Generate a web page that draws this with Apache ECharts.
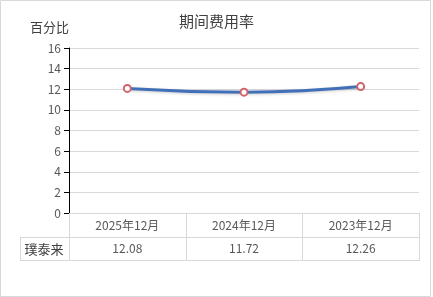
<!DOCTYPE html>
<html><head><meta charset="utf-8">
<script src="https://cdn.jsdelivr.net/npm/echarts@6/dist/echarts.min.js"></script>
<style>html,body{margin:0;padding:0;background:#fff}#c{width:433px;height:297px}</style>
</head><body><div id="c"></div>
<script>
var categories = ['2025年12月', '2024年12月', '2023年12月'];
var seriesName = '璞泰来';
var values = [12.08, 11.72, 12.26];
var yTicks = [0, 2, 4, 6, 8, 10, 12, 14, 16];
var titleText = '期间费用率';
var yName = '百分比';

var FONT = '"Noto Sans CJK SC", "Microsoft YaHei", sans-serif';
var chart = echarts.init(document.getElementById('c'), null, {renderer: 'canvas'});
var gl = 69, gr = 419, gt = 48, gb = 213;
var tableLine = '#d9d9d9';
var g = [
  {type: 'rect', shape: {x: 0.5, y: 0.5, width: 430, height: 296}, style: {fill: null, stroke: '#d9d9d9', lineWidth: 1}, z: 0},
  {type: 'line', shape: {x1: gl, y1: 237.5, x2: gr, y2: 237.5}, style: {stroke: tableLine}},
  {type: 'line', shape: {x1: 20, y1: 237.5, x2: gl, y2: 237.5}, style: {stroke: tableLine}},
  {type: 'line', shape: {x1: 20, y1: 260.5, x2: gr, y2: 260.5}, style: {stroke: tableLine}},
  {type: 'line', shape: {x1: 20.5, y1: 237, x2: 20.5, y2: 261}, style: {stroke: tableLine}},
  {type: 'text', style: {text: seriesName, x: 44, y: 249, textAlign: 'center', textVerticalAlign: 'middle', fill: '#404040', font: '13px ' + FONT}}
];
var bw = (gr - gl) / categories.length;
for (var i = 0; i <= categories.length; i++) {
  var x = Math.round(gl + bw * i) + 0.5;
  g.push({type: 'line', shape: {x1: x, y1: 213, x2: x, y2: 261}, style: {stroke: tableLine}});
}
chart.setOption({
  animation: false,
  title: {text: titleText, left: 'center', top: 9, textStyle: {fontFamily: FONT, fontSize: 15, fontWeight: 'normal', color: '#404040'}},
  grid: {left: gl, right: 433 - gr, top: gt, bottom: 297 - gb},
  xAxis: {
    type: 'category', data: categories, boundaryGap: true,
    axisLine: {lineStyle: {color: '#d9d9d9'}},
    axisTick: {show: false},
    axisLabel: {
      margin: 1,
      formatter: function (v, idx) { return '{a|' + v + '}\n{b|' + values[idx].toFixed(2) + '}'; },
      rich: {
        a: {fontFamily: FONT, fontSize: 12, color: '#595959', lineHeight: 23},
        b: {fontFamily: FONT, fontSize: 12, color: '#595959', lineHeight: 23}
      }
    }
  },
  yAxis: {
    type: 'value', min: yTicks[0], max: yTicks[yTicks.length - 1], interval: 2,
    name: yName, nameLocation: 'end', nameGap: 14,
    nameTextStyle: {fontFamily: FONT, fontSize: 13, color: '#404040', align: 'right'},
    axisLine: {show: true, lineStyle: {color: '#000', width: 1}},
    axisTick: {show: true, length: 5, lineStyle: {color: '#000'}},
    axisLabel: {fontFamily: FONT, fontSize: 12, color: '#595959', margin: 8},
    splitLine: {lineStyle: {color: '#d9d9d9'}}
  },
  series: [{
    name: seriesName, type: 'line', data: values, smooth: true,
    symbol: 'emptyCircle', symbolSize: 7,
    lineStyle: {color: '#4170b8', width: 3, shadowColor: 'rgba(0,0,0,0.2)', shadowBlur: 3, shadowOffsetY: 1},
    itemStyle: {color: '#d0646a', borderColor: '#d0646a', borderWidth: 1}
  }],
  graphic: g
});
</script></body></html>
